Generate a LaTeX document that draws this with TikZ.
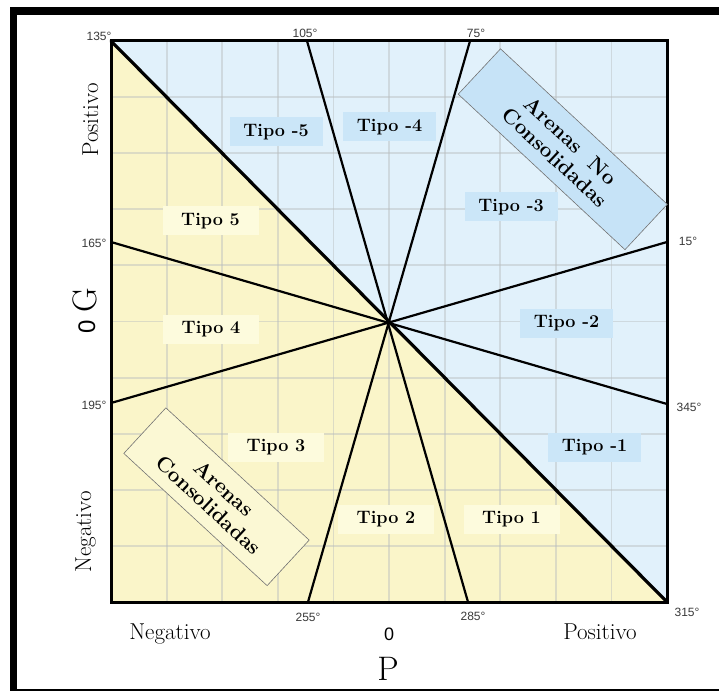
\documentclass[tikz,border=0pt]{standalone}
\usepackage{fontspec}
\newfontfamily\degfont{Liberation Sans}
\definecolor{bgblue}{HTML}{E1F1FB}
\definecolor{bgyel}{HTML}{FAF5C9}
\definecolor{lblblue}{HTML}{CBE6F8}
\definecolor{lblyel}{HTML}{FDFBDD}
\definecolor{bigblue}{HTML}{C6E3F7}
\definecolor{bigyel}{HTML}{FBF8D4}
\definecolor{gridc}{HTML}{B8BDBF}
\definecolor{degc}{HTML}{3A3A3A}
\tikzset{
  ray/.style={line width=2.2pt, black},
  diag/.style={line width=3.2pt, black, line cap=round},
  deg/.style={font=\degfont\fontsize{12}{13}\selectfont, text=degc, inner sep=0pt},
  tipob/.style={fill=lblblue, minimum width=93pt, minimum height=29pt, inner sep=2pt,
    font=\bfseries\fontsize{18}{20}\selectfont},
  tipoy/.style={fill=lblyel, minimum width=96pt, minimum height=29pt, inner sep=2pt,
    font=\bfseries\fontsize{18}{20}\selectfont},
  arenas/.style={draw=black!55, line width=0.6pt, align=center, inner sep=0pt,
    font=\bfseries\fontsize{21}{23}\selectfont},
  axis/.style={font=\fontsize{23}{25}\selectfont, inner sep=0pt},
  bigaxis/.style={font=\fontsize{34}{36}\selectfont, inner sep=0pt},
}
\begin{document}
\begin{tikzpicture}[x=1pt,y=-1pt]
\useasboundingbox (0,0) rectangle (719,692);
\fill[white] (0,0) rectangle (719,692);
% outer frame
\fill[black] (10,7) rectangle (719,15);
\fill[black] (10,7) rectangle (17,691);
\fill[black] (10,688.5) rectangle (719,690.5);
% square corners and ray ends
\coordinate (a135) at (111,41);
\coordinate (tr) at (667,41);
\coordinate (a315) at (667,602);
\coordinate (bl) at (111,602);
\coordinate (c) at (389,322);
\coordinate (a105) at (307,41);
\coordinate (a285) at (468,602);
\coordinate (a75) at (470,41);
\coordinate (a255) at (308,602);
\coordinate (a165) at (111,242);
\coordinate (a345) at (667,404);
\coordinate (a195) at (111,403);
\coordinate (a15) at (667,242);
% fills
\fill[bgblue] (a135) -- (tr) -- (a315) -- cycle;
\fill[bgyel] (a135) -- (bl) -- (a315) -- cycle;
% grid
\foreach \i in {1,...,9} {
  \draw[gridc, opacity=0.45, line width=1.8pt] ({111+55.6*\i},41) -- ({111+55.6*\i},602);
  \draw[gridc, opacity=0.45, line width=1.8pt] (111,{41+56.1*\i}) -- (667,{41+56.1*\i});
}
% label boxes
\node[tipob] (t-5) at (276,132) {Tipo -\oldstylenums{5}\hspace{13pt}};
\node[tipob] (t-4) at (389.5,127) {Tipo -\oldstylenums{4}\hspace{13pt}};
\node[tipob] (t-3) at (511,207) {Tipo -\oldstylenums{3}\hspace{13pt}};
\node[tipob] (t-2) at (566.5,323) {Tipo -\oldstylenums{2}\hspace{13pt}};
\node[tipob] (t-1) at (594.5,447) {Tipo -\oldstylenums{1}\hspace{13pt}};
\node[tipoy] (t1) at (511.5,519.5) {Tipo \oldstylenums{1}\hspace{22pt}};
\node[tipoy] (t2) at (386,519.5) {Tipo \oldstylenums{2}\hspace{22pt}};
\node[tipoy] (t3) at (276,447.5) {Tipo \oldstylenums{3}\hspace{26pt}};
\node[tipoy] (t4) at (211,329) {Tipo \oldstylenums{4}\hspace{26pt}};
\node[tipoy] (t5) at (210.5,221) {Tipo \oldstylenums{5}\hspace{26pt}};
% rays
\draw[ray] (a105) -- (a285);
\draw[ray] (a75) -- (a255);
\draw[ray] (a165) -- (a345);
\draw[ray] (a195) -- (a15);
\draw[diag] (a135) -- (a315);
% square border
\draw[line width=3pt, black] (a135) rectangle (a315);
% big rotated boxes
\node[arenas, fill=bigblue, rotate=-43, minimum width=228pt, minimum height=62pt] (anc) at (562.75,149.25) {Arenas\ \ No\\Consolidadas};
\node[arenas, fill=bigyel, rotate=-42.7, minimum width=195pt, minimum height=62pt] (ac) at (216.5,496.75) {Arenas\\Consolidadas};
% degree labels
\node[deg] (d135) at (99,36) {135°};
\node[deg] (d105) at (305,33) {105°};
\node[deg] (d75) at (476,33) {75°};
\node[deg] (d165) at (94,243) {165°};
\node[deg] (d15) at (688,241) {15°};
\node[deg] (d195) at (94,405) {195°};
\node[deg] (d345) at (689,407) {345°};
\node[deg] (d255) at (308,617) {255°};
\node[deg] (d285) at (473,616) {285°};
\node[deg] (d315) at (687,612) {315°};
% axis labels
\node[axis, anchor=base] (xneg) at (170,639) {Negativo};
\node[axis, anchor=base] (xpos) at (600,639) {Positivo};
\node[font=\degfont\fontsize{18}{20}\selectfont, inner sep=0pt, anchor=base] (x0) at (389,640) {0};
\node[bigaxis, anchor=base] (xp) at (388,680) {P};
\node[axis, anchor=base, rotate=90] (ypos) at (98,120) {Positivo};
\node[axis, anchor=base, rotate=90] (yneg) at (91,532) {Negativo};
\node[bigaxis, anchor=base, rotate=90] (yg) at (96,300) {G};
\node[font=\degfont\fontsize{24}{26}\selectfont, inner sep=0pt, anchor=base, rotate=90] (y0) at (95,327) {0};
\end{tikzpicture}
\end{document}
